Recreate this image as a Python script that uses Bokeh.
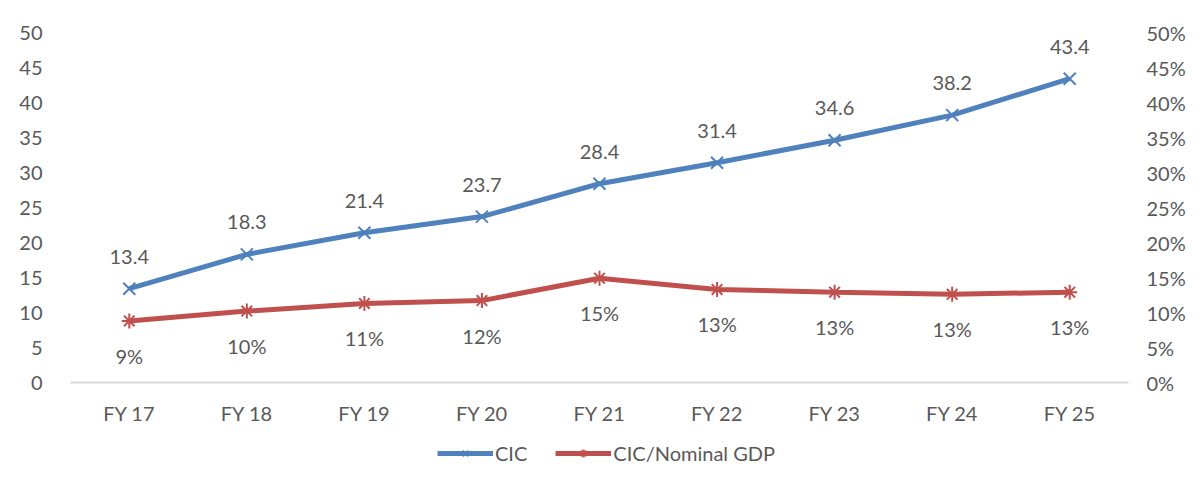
from bokeh.plotting import figure
from bokeh.layouts import column
from bokeh.models import (FactorRange, Range1d, LinearAxis,
                          FixedTicker, NumeralTickFormatter, Legend, LegendItem)
from bokeh.core.properties import value
from bokeh.embed import file_html
from bokeh.resources import INLINE

years = ["FY 17", "FY 18", "FY 19", "FY 20", "FY 21", "FY 22", "FY 23", "FY 24", "FY 25"]
cic = [13.4, 18.3, 21.4, 23.7, 28.4, 31.4, 34.6, 38.2, 43.4]
cic_labels = ["13.4", "18.3", "21.4", "23.7", "28.4", "31.4", "34.6", "38.2", "43.4"]
cic_gdp = [0.088, 0.102, 0.113, 0.117, 0.149, 0.133, 0.129, 0.126, 0.129]
cic_gdp_labels = ["9%", "10%", "11%", "12%", "15%", "13%", "13%", "13%", "13%"]
left_ticks = list(range(0, 55, 5))
right_ticks = [0.0, 0.05, 0.10, 0.15, 0.20, 0.25, 0.30, 0.35, 0.40, 0.45, 0.50]
series_names = ["CIC", "CIC/Nominal GDP"]

BLUE = "#4F81BD"
RED = "#C0504D"
TXT = "#595959"
FONT = "Lato"
FS = "20px"

p = figure(x_range=FactorRange(*years, range_padding=0), y_range=Range1d(0, 50),
           frame_width=1058, frame_height=350, output_backend="svg", toolbar_location=None,
           min_border_left=70, min_border_right=64, min_border_top=32, min_border_bottom=50)
p.outline_line_color = None
p.grid.grid_line_color = None
p.extra_y_ranges = {"pct": Range1d(0, 0.5)}

# x axis
xa = p.xaxis[0]
xa.axis_line_color = "#D9D9D9"
xa.axis_line_width = 2
xa.major_tick_line_color = None
xa.minor_tick_line_color = None
xa.major_tick_out = 0
xa.major_tick_in = 0
xa.minor_tick_out = 0
xa.major_label_standoff = 18
xa.axis_label_standoff = 0
xa.major_label_text_font = FONT
xa.major_label_text_font_size = FS
xa.major_label_text_color = TXT

# left y axis
ya = p.yaxis[0]
ya.ticker = FixedTicker(ticks=left_ticks)
ya.axis_line_color = None
ya.major_tick_line_color = None
ya.minor_tick_line_color = None
ya.major_label_standoff = 22
ya.major_label_text_font = FONT
ya.major_label_text_font_size = FS
ya.major_label_text_color = TXT

# right y axis
ra = LinearAxis(y_range_name="pct", ticker=FixedTicker(ticks=right_ticks),
                formatter=NumeralTickFormatter(format="0%"))
ra.axis_line_color = None
ra.major_tick_line_color = None
ra.minor_tick_line_color = None
ra.major_label_standoff = 12
ra.major_label_text_font = FONT
ra.major_label_text_font_size = FS
ra.major_label_text_color = TXT
p.add_layout(ra, "right")

p.line(years, cic, line_color=BLUE, line_width=5)
p.scatter(years, cic, marker="x", size=17, line_color=BLUE, line_width=2)
p.line(years, cic_gdp, line_color=RED, line_width=5, y_range_name="pct")
p.scatter(years, cic_gdp, marker="asterisk", size=15, line_color=RED, line_width=2,
          y_range_name="pct")

p.text(years, cic, text=cic_labels, text_align="center", text_baseline="middle",
       y_offset=-32, text_font=value(FONT), text_font_size=FS, text_color=TXT)
p.text(years, cic_gdp, text=cic_gdp_labels, text_align="center", text_baseline="middle",
       y_offset=35, text_font=value(FONT), text_font_size=FS, text_color=TXT,
       y_range_name="pct")

# legend strip (separate figure under the chart); its series are kept out of view
q = figure(x_range=Range1d(0, 1), y_range=Range1d(-2, -1), x_axis_type=None, y_axis_type=None,
           frame_width=1058, frame_height=46, output_backend="svg", toolbar_location=None,
           min_border_left=70, min_border_right=64, min_border_top=0, min_border_bottom=0)
q.outline_line_color = None
q.grid.grid_line_color = None
ql1 = q.line(cic, cic, line_color=BLUE, line_width=5)
qm1 = q.scatter(cic, cic, marker="x", size=17, line_color=BLUE, line_width=2)
ql2 = q.line(cic_gdp, cic_gdp, line_color=RED, line_width=5)
qm2 = q.scatter(cic_gdp, cic_gdp, marker="asterisk", size=15, line_color=RED, line_width=2)

legend = Legend(items=[LegendItem(label=series_names[0], renderers=[ql1, qm1]),
                       LegendItem(label=series_names[1], renderers=[ql2, qm2])],
                orientation="horizontal", location=(367, 13))
legend.label_text_font = FONT
legend.label_text_font_size = FS
legend.label_text_color = TXT
legend.glyph_width = 56
legend.glyph_height = 20
legend.label_height = 20
legend.label_standoff = 2
legend.spacing = 28
legend.border_line_color = None
legend.background_fill_alpha = 0
legend.margin = 0
legend.padding = 0
q.add_layout(legend, "center")

layout = column(p, q, spacing=0)
open("out.html", "w").write(file_html(layout, INLINE))
